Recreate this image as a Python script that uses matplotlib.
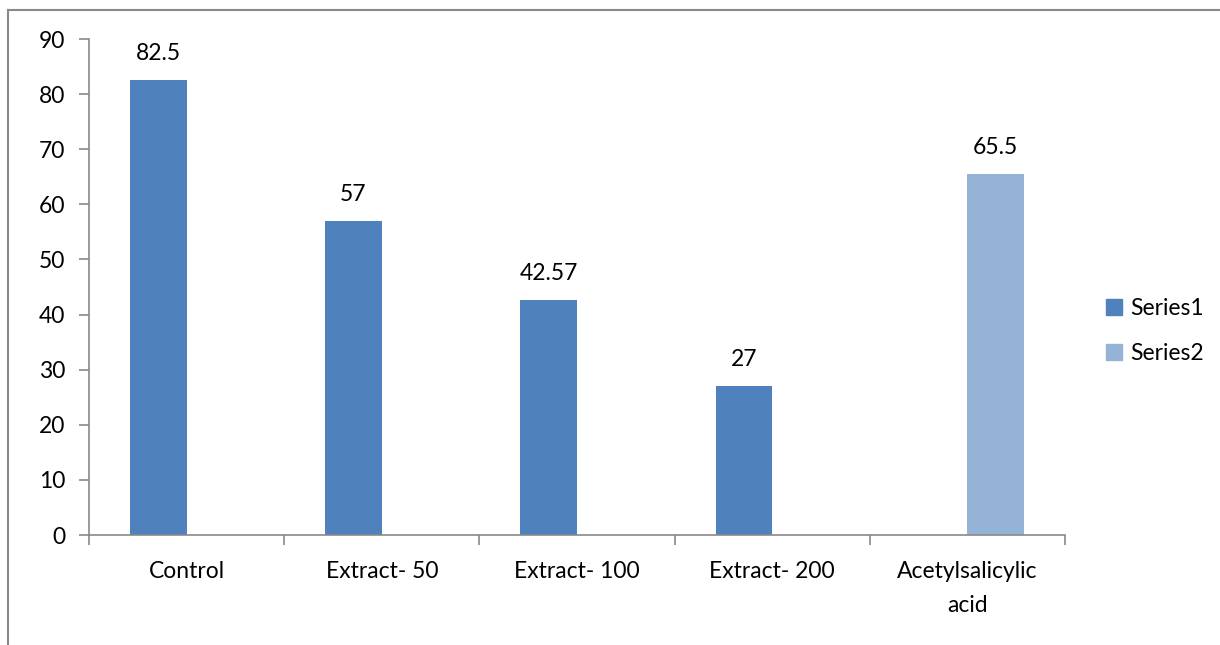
import matplotlib
matplotlib.use("Agg")
import matplotlib.pyplot as plt
from matplotlib.lines import Line2D
import numpy as np

categories = ["Control", "Extract- 50", "Extract- 100", "Extract- 200", "Acetylsalicylic\nacid"]
series1 = [82.5, 57, 42.57, 27, None]
series2 = [None, None, None, None, 65.5]
labels1 = ["82.5", "57", "42.57", "27", ""]
labels2 = ["", "", "", "", "65.5"]
yticks = [0, 10, 20, 30, 40, 50, 60, 70, 80, 90]

plt.rcParams['font.family'] = ['Lato', 'DejaVu Sans']
gray = "#898989"
c1 = "#4F81BD"
c2 = "#95B3D7"
fs = 16.5

fig = plt.figure(figsize=(12.2, 6.45), dpi=100)
ax = fig.add_axes([89/1220, 1 - 535/645, (1065 - 89)/1220, (535 - 39)/645])

x = np.arange(len(categories))
w = 0.29

for i in x:
    if series1[i] is not None:
        ax.bar(i - w/2, series1[i], w, color=c1)
        ax.annotate(labels1[i], (i - w/2, series1[i]), xytext=(0, 16), textcoords="offset pixels",
                    ha="center", va="bottom", fontsize=fs)
    if series2[i] is not None:
        ax.bar(i + w/2, series2[i], w, color=c2)
        ax.annotate(labels2[i], (i + w/2, series2[i]), xytext=(0, 16), textcoords="offset pixels",
                    ha="center", va="bottom", fontsize=fs)

ax.set_xlim(-0.5, len(categories) - 0.5)
ax.set_ylim(0, 90)
ax.set_yticks(yticks)
ax.set_yticklabels([str(t) for t in yticks], fontsize=fs)

ax.set_xticks(np.arange(-0.5, len(categories)), labels=[])
ax.set_xticks(x, labels=categories, minor=True, fontsize=fs)
ax.tick_params(axis="x", which="major", length=7, color=gray, width=1.2, direction="out")
ax.tick_params(axis="x", which="minor", length=0, pad=19)
ax.tick_params(axis="y", length=7, color=gray, width=1.2, pad=10)
for lbl in ax.get_xticklabels(minor=True):
    lbl.set_linespacing(1.75)

for s in ["top", "right"]:
    ax.spines[s].set_visible(False)
for s in ["left", "bottom"]:
    ax.spines[s].set_color(gray)
    ax.spines[s].set_linewidth(1.2)

handles = [Line2D([], [], ls="none", marker="s", ms=11, color=c1),
           Line2D([], [], ls="none", marker="s", ms=11, color=c2)]
ax.legend(handles, ["Series1", "Series2"], loc="center left",
          bbox_to_anchor=(1105/1220, 1 - 331/645), bbox_transform=fig.transFigure,
          frameon=False, fontsize=fs, handlelength=0.8, handletextpad=0.3,
          labelspacing=1.05, borderaxespad=0, borderpad=0)

# outer chart frame (only left and top edges visible)
fig.add_artist(Line2D([8/1220, 8/1220], [0, 1 - 10/645], transform=fig.transFigure, color=gray, lw=1.5))
fig.add_artist(Line2D([8/1220, 1], [1 - 10/645, 1 - 10/645], transform=fig.transFigure, color=gray, lw=1.5))

fig.savefig("out.png", dpi=100)
